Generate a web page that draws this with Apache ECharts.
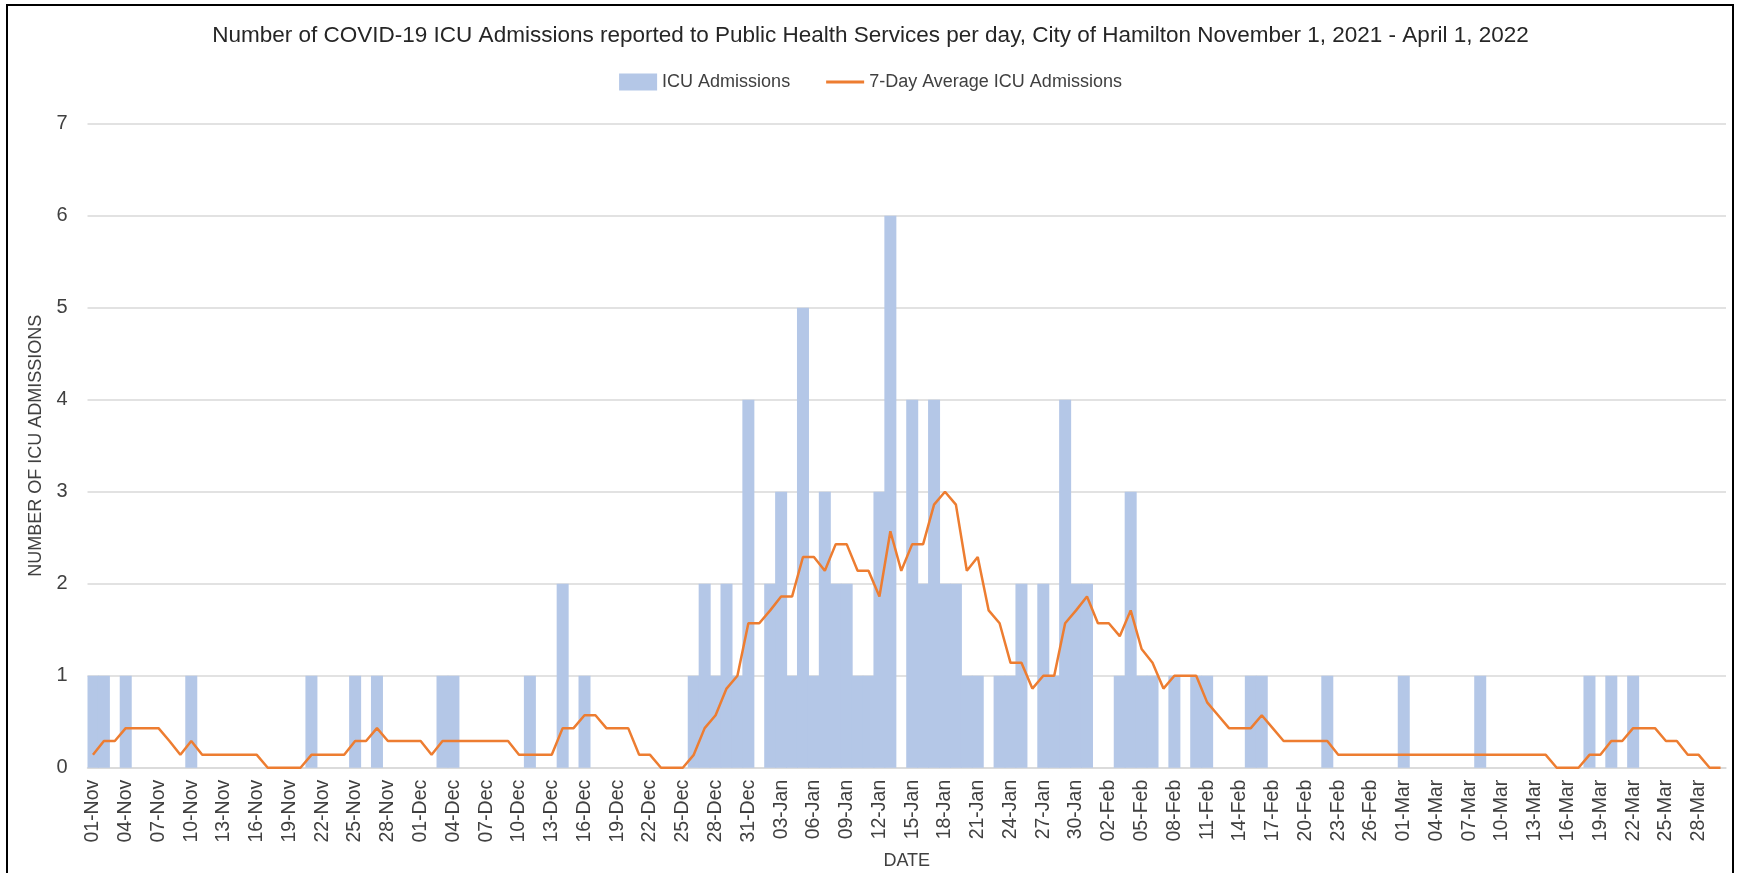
<!DOCTYPE html>
<html>
<head>
<meta charset="utf-8">
<title>ICU Admissions Hamilton</title>
<script src="https://cdn.jsdelivr.net/npm/echarts@6/dist/echarts.min.js"></script>
<style>
  html, body { margin: 0; padding: 0; background: #fff; }
  #chart { width: 1741px; height: 873px; }
</style>
</head>
<body>
<div id="chart"></div>
<script>
// months shown on the x axis (Nov 2021 - Mar 2022)
const monthNames = ['Nov', 'Dec', 'Jan', 'Feb', 'Mar'];
const monthDays = [30, 31, 31, 28, 30];

// daily ICU admissions, one array per month
const icuNov = [1,1,0,1,0,0,0,0,0,1, 0,0,0,0,0,0,0,0,0,0, 1,0,0,0,1,0,1,0,0,0];
const icuDec = [0,0,1,1,0,0,0,0,0,0, 1,0,0,2,0,1,0,0,0,0, 0,0,0,0,0,1,2,1,2,1,4];
const icuJan = [0,2,3,1,5,1,3,2,2,1, 1,3,6,0,4,2,4,2,2,1, 1,0,1,1,2,0,2,1,4,2,2];
const icuFeb = [0,0,1,3,1,1,0,1,0,1, 1,0,0,0,1,1,0,0,0,0, 0,1,0,0,0,0,0,0];
const icuMar = [1,0,0,0,0,0,0,1,0,0, 0,0,0,0,0,0,0,1,0,1, 0,1,0,0,0,0,0,0,0,0];

// 7-day average ICU admissions
const avgNov = [0.14,0.29,0.29,0.43,0.43,0.43,0.43,0.29,0.14,0.29, 0.14,0.14,0.14,0.14,0.14,0.14,0,0,0,0, 0.14,0.14,0.14,0.14,0.29,0.29,0.43,0.29,0.29,0.29];
const avgDec = [0.29,0.14,0.29,0.29,0.29,0.29,0.29,0.29,0.29,0.14, 0.14,0.14,0.14,0.43,0.43,0.57,0.57,0.43,0.43,0.43, 0.14,0.14,0,0,0,0.14,0.43,0.57,0.86,1.0,1.57];
const avgJan = [1.57,1.71,1.86,1.86,2.29,2.29,2.14,2.43,2.43,2.14, 2.14,1.86,2.57,2.14,2.43,2.43,2.86,3.0,2.86,2.14, 2.29,1.71,1.57,1.14,1.14,0.86,1.0,1.0,1.57,1.71,1.86];
const avgFeb = [1.57,1.57,1.43,1.71,1.29,1.14,0.86,1.0,1.0,1.0, 0.71,0.57,0.43,0.43,0.43,0.57,0.43,0.29,0.29,0.29, 0.29,0.29,0.14,0.14,0.14,0.14,0.14,0.14];
const avgMar = [0.14,0.14,0.14,0.14,0.14,0.14,0.14,0.14,0.14,0.14, 0.14,0.14,0.14,0.14,0,0,0,0.14,0.14,0.29, 0.29,0.43,0.43,0.43,0.29,0.29,0.14,0.14,0,0];

// y axis ticks
const yTicks = [0, 1, 2, 3, 4, 5, 6, 7];

// category labels like "01-Nov"
const dates = [];
monthNames.forEach((m, k) => {
  for (let d = 1; d <= monthDays[k]; d++) {
    dates.push((d < 10 ? '0' + d : '' + d) + '-' + m);
  }
});
const icuData = [].concat(icuNov, icuDec, icuJan, icuFeb, icuMar);
const avgData = [].concat(avgNov, avgDec, avgJan, avgFeb, avgMar);

const font = '"Liberation Sans", Arial, sans-serif';
const textColor = '#404040';

const myChart = echarts.init(document.getElementById('chart'));

const option = {
  animation: false,
  backgroundColor: '#fff',
  textStyle: { fontFamily: font },
  title: {
    text: 'Number of COVID-19 ICU Admissions reported to Public Health Services per day, City of Hamilton November 1, 2021 - April 1, 2022',
    left: 'center',
    top: 19,
    textStyle: { fontFamily: font, fontSize: 22.5, fontWeight: 'normal', color: '#262626' }
  },
  legend: {
    top: 68,
    left: 'center',
    itemGap: 36,
    itemWidth: 38,
    itemHeight: 17,
    textStyle: { fontFamily: font, fontSize: 18, color: textColor },
    data: [
      { name: 'ICU Admissions', icon: 'rect' },
      { name: '7-Day Average ICU Admissions', icon: 'path://M0,0 H40 V3 H0 Z' }
    ]
  },
  grid: {
    left: 87.5,
    right: 15,
    top: 123.7,
    bottom: 105.3,
    containLabel: false,
    outerBoundsMode: 'none'
  },
  xAxis: {
    type: 'category',
    data: dates,
    name: 'DATE',
    nameLocation: 'middle',
    nameGap: 84,
    nameTextStyle: { fontFamily: font, fontSize: 18, color: textColor },
    axisLine: { lineStyle: { color: '#d9d9d9', width: 1.5 } },
    axisTick: { show: false },
    axisLabel: {
      interval: 2,
      rotate: 90,
      margin: 12,
      fontFamily: font,
      fontSize: 19.5,
      color: textColor
    }
  },
  yAxis: {
    type: 'value',
    min: yTicks[0],
    max: yTicks[yTicks.length - 1],
    interval: 1,
    name: 'NUMBER OF ICU ADMISSIONS',
    nameLocation: 'middle',
    nameGap: 40,
    nameTextStyle: { fontFamily: font, fontSize: 18, color: textColor },
    axisLine: { show: false },
    axisTick: { show: false },
    axisLabel: { margin: 20, fontFamily: font, fontSize: 20, color: textColor },
    splitLine: { lineStyle: { color: '#d9d9d9', width: 1.5 } }
  },
  series: [
    {
      name: 'ICU Admissions',
      type: 'bar',
      data: icuData,
      barWidth: 12,
      itemStyle: { color: '#b4c7e7' }
    },
    {
      name: '7-Day Average ICU Admissions',
      type: 'line',
      data: avgData,
      symbol: 'none',
      z: 5,
      lineStyle: { color: '#ed7d31', width: 2.5 },
      itemStyle: { color: '#ed7d31' }
    }
  ],
  graphic: [
    {
      type: 'rect',
      shape: { x: 7, y: 5, width: 1726, height: 880 },
      style: { fill: 'none', stroke: '#000', lineWidth: 2 },
      silent: true
    }
  ]
};

option && myChart.setOption(option);
</script>
</body>
</html>
